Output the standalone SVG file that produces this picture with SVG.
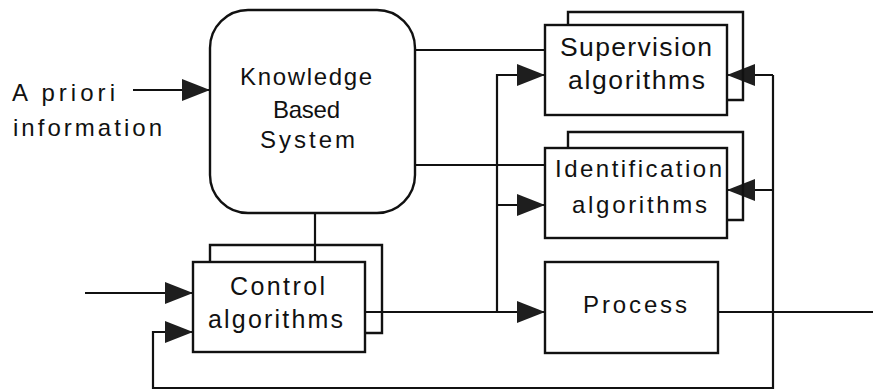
<svg xmlns="http://www.w3.org/2000/svg" width="873" height="392" viewBox="0 0 873 392">
<defs>
<marker id="arr" markerUnits="userSpaceOnUse" markerWidth="28" markerHeight="22" refX="28" refY="11" orient="auto" viewBox="0 0 28 22">
<path d="M0,0 L28,11 L0,22 z" fill="#1e1e1e"/>
</marker>
<style>
.box{fill:#fff;stroke:#111;stroke-width:2.4}
.back{fill:none;stroke:#111;stroke-width:2.4}
.ln{fill:none;stroke:#111;stroke-width:2.2}
.ar{marker-end:url(#arr)}
text{font-family:"Liberation Sans",Arial,Helvetica,sans-serif;font-size:24px;fill:#111}
.big{font-size:26.5px}
.mid{font-size:25px}
</style>
</defs>
<rect width="873" height="392" fill="#fff"/>
<g id="connectors">
<path class="ln ar" d="M133,90 H210"/>
<path class="ln" d="M415,50 H545"/>
<path class="ln" d="M415,165 H545"/>
<path class="ln" d="M315,213 V262"/>
<path class="ln ar" d="M85,293 H193"/>
<path class="ln ar" d="M365,312 H545"/>
<path class="ln ar" d="M497,312 V75 H545"/>
<path class="ln ar" d="M497,205 H545"/>
<path class="ln" d="M718,312 H873"/>
<path class="ln ar" d="M773,75 H727"/>
<path class="ln ar" d="M773,190 H727"/>
<path class="ln ar" d="M773,75 V388 H153 V332 H193"/>
</g>
<g id="apriori">
<text x="12" y="101" textLength="103" lengthAdjust="spacing">A priori</text>
<text x="13" y="136" textLength="149" lengthAdjust="spacing">information</text>
</g>
<g id="kbs">
<rect class="box" x="210" y="10" width="205" height="203" rx="38"/>
<text x="240" y="85" textLength="132" lengthAdjust="spacing">Knowledge</text>
<text x="273" y="118" textLength="67" lengthAdjust="spacing">Based</text>
<text x="260" y="148" textLength="95" lengthAdjust="spacing">System</text>
</g>
<g id="supervision">
<path class="back" d="M568,25 V12 H743 V100 H727"/>
<rect class="box" x="545" y="25" width="182" height="90"/>
<text class="big" x="560" y="56" textLength="152" lengthAdjust="spacing">Supervision</text>
<text class="big" x="568" y="89" textLength="137" lengthAdjust="spacing">algorithms</text>
</g>
<g id="identification">
<path class="back" d="M568,148 V132 H743 V220 H727"/>
<rect class="box" x="545" y="148" width="182" height="90"/>
<text x="555" y="177" textLength="167" lengthAdjust="spacing">Identification</text>
<text x="572" y="213" textLength="135" lengthAdjust="spacing">algorithms</text>
</g>
<g id="process">
<rect class="box" x="545" y="262" width="173" height="91"/>
<text x="583" y="313" textLength="104" lengthAdjust="spacing">Process</text>
</g>
<g id="control">
<path class="back" d="M210,262 V245 H382 V333 H365"/>
<rect class="box" x="193" y="262" width="172" height="90"/>
<text class="mid" x="230" y="295" textLength="95" lengthAdjust="spacing">Control</text>
<text class="mid" x="208" y="328" textLength="135" lengthAdjust="spacing">algorithms</text>
</g>
</svg>
